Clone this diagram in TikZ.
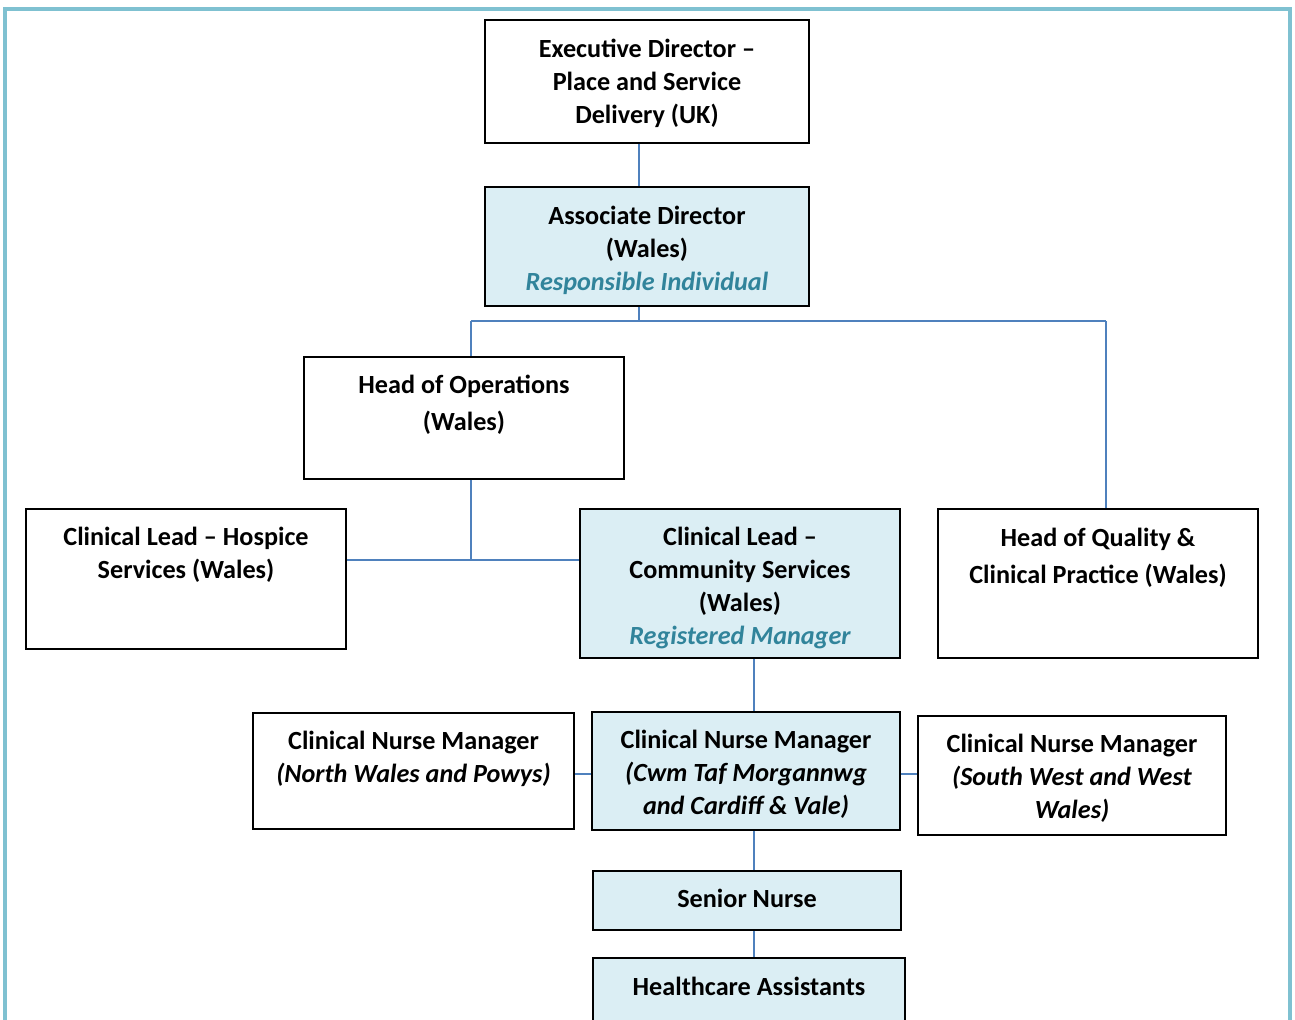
\documentclass[tikz,border=0pt]{standalone}
\usepackage{fontspec}
\setmainfont{Carlito}
\usetikzlibrary{calc}
\definecolor{boxfill}{HTML}{DBEEF4}
\definecolor{roleteal}{HTML}{31849B}
\definecolor{linkblue}{HTML}{4F81BD}
\definecolor{framecol}{HTML}{7FC1D1}
\tikzset{post/.style={draw=black, line width=0.9pt, inner sep=0pt},
postfill/.style={post, fill=boxfill},
role/.style={anchor=north, align=center, inner sep=0pt, font=\fontsize{13.1}{16.5}\selectfont\bfseries, execute at begin node=\strut},
widerole/.style={role, font=\fontsize{13.1}{18.5}\selectfont\bfseries},
link/.style={draw=linkblue, line width=1pt}}

\begin{document}
\begin{tikzpicture}[x=0.5pt,y=-0.5pt]
\useasboundingbox (0,0) rectangle (1295,1019);
\clip (0,0) rectangle (1295,1019);

\draw[framecol, line width=1.6pt] (5,1030) -- (5,9) -- (1290,9) -- (1290,1030);

% boxes
\node[post, minimum width=162pt, minimum height=61.5pt] (exec) at (647,81.5) {};
\node[postfill, minimum width=162pt, minimum height=59.5pt] (assoc) at (647,246.5) {};
\node[post, minimum width=160pt, minimum height=61pt] (ops) at (464,418) {};
\node[post, minimum width=160pt, minimum height=70pt] (hospice) at (186,579) {};
\node[postfill, minimum width=160pt, minimum height=74.5pt] (community) at (740,583.5) {};
\node[post, minimum width=160pt, minimum height=74.5pt] (quality) at (1098,583.5) {};
\node[post, minimum width=160.5pt, minimum height=58pt] (cnmnorth) at (413.5,771) {};
\node[postfill, minimum width=154pt, minimum height=59pt] (cnmcwm) at (746,771) {};
\node[post, minimum width=154pt, minimum height=59.5pt] (cnmsouth) at (1072,775.5) {};
\node[postfill, minimum width=154pt, minimum height=29.5pt] (senior) at (747,900.5) {};
\node[postfill, minimum width=156pt, minimum height=41pt] (hca) at (749,999) {};

% texts
\node[role] (exect) at (647,39) {Executive Director –\\Place and Service\\Delivery (UK)};
\node[role] (assoct) at (647,206) {Associate Director\\(Wales)\\\textcolor{roleteal}{\itshape Responsible Individual}};
\node[widerole] (opst) at (464,375) {Head of Operations\\(Wales)};
\node[role] (hospicet) at (186,527) {Clinical Lead – Hospice\\Services (Wales)};
\node[role] (communityt) at (740,527) {Clinical Lead –\\Community Services\\(Wales)\\\textcolor{roleteal}{\itshape Registered Manager}};
\node[widerole] (qualityt) at (1098,528) {Head of Quality \&\\Clinical Practice (Wales)};
\node[role] (cnmnortht) at (413.5,731) {Clinical Nurse Manager\\\textit{(North Wales and Powys)}};
\node[role] (cnmcwmt) at (746,730) {Clinical Nurse Manager\\\textit{(Cwm Taf Morgannwg}\\\textit{and Cardiff \& Vale)}};
\node[role] (cnmsoutht) at (1072,734) {Clinical Nurse Manager\\\textit{(South West and West}\\\textit{Wales)}};
\node[role] (seniort) at (747,884) {Senior Nurse};
\node[role] (hcat) at (749,972) {Healthcare Assistants};

% links
\coordinate (bus) at (639,321);
\coordinate (opsdrop) at (471,321);
\coordinate (qualdrop) at (1106,321);
\coordinate (junc) at (471,560);
\coordinate (spine) at (754,0);
\coordinate (row) at (0,774);

\draw[link] (exec.south -| bus) -- (assoc.north -| bus);
\draw[link] (assoc.south -| bus) -- (bus);
\draw[link] (opsdrop) -- (qualdrop);
\draw[link] (opsdrop) -- (opsdrop |- ops.north);
\draw[link] (qualdrop) -- (qualdrop |- quality.north);
\draw[link] (ops.south -| junc) -- (junc);
\draw[link] (hospice.east |- junc) -- (community.west |- junc);
\draw[link] (cnmnorth.east |- row) -- (cnmcwm.west |- row);
\draw[link] (cnmcwm.east |- row) -- (cnmsouth.west |- row);

\foreach \a/\b in {community/cnmcwm, cnmcwm/senior, senior/hca}
    \draw[link] (\a.south -| spine) -- (\b.north -| spine);

\end{tikzpicture}
\end{document}
